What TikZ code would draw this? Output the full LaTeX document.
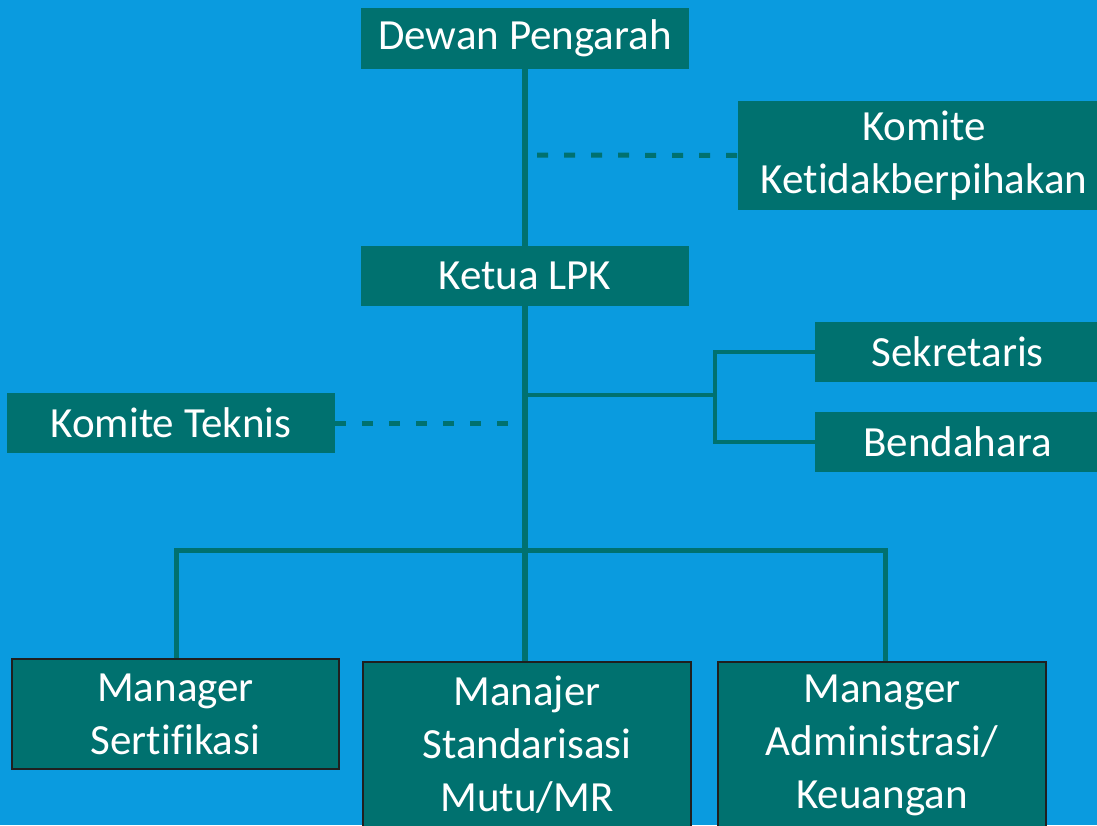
\documentclass[tikz,border=0pt]{standalone}
\usepackage{fontspec}
\setmainfont{Carlito}[Ligatures=NoCommon]
\definecolor{bg}{HTML}{0A9BDF}
\definecolor{tealbox}{HTML}{00716F}
\begin{document}
\begin{tikzpicture}[x=1pt,y=-1pt,
  box/.style={fill=tealbox, text=white, inner sep=0pt, align=center,
    font=\fontsize{43}{53}\selectfont},
  bordered/.style={box, draw=black!88, line width=2pt},
  link/.style={draw=tealbox, line width=5pt},
  mainlink/.style={draw=tealbox, line width=6pt},
  thinlink/.style={draw=tealbox, line width=4.5pt},
  dlink/.style={draw=tealbox, line width=5pt, dash pattern=on 11pt off 16pt}]
\fill[bg] (0,0) rectangle (1097,825);
\useasboundingbox (0,0) rectangle (1097,825);
\coordinate (hub) at (525,550);
\coordinate (sbj) at (525,395);
\coordinate (brk) at (715,395);
\coordinate (kd) at (537,155);
\coordinate (td) at (510,423);
\coordinate (hl) at (176,550);
\coordinate (hr) at (885,550);
% boxes
\node[box, minimum width=328pt, minimum height=61pt] (dewan) at (525,38.5) {Dewan Pengarah};
\node[box, minimum width=372pt, minimum height=109pt] (komite) at (924,155.5) {Komite\\Ketidakberpihakan};
\node[box, minimum width=328pt, minimum height=60pt] (ketua) at (525,276) {Ketua LPK};
\node[box, minimum width=285pt, minimum height=60pt] (sek) at (957.5,352) {Sekretaris};
\node[box, minimum width=285pt, minimum height=60pt] (ben) at (957.5,442) {Bendahara};
\node[box, minimum width=328pt, minimum height=60pt] (teknis) at (171,423) {Komite Teknis};
\node[bordered, minimum width=327pt, minimum height=110pt] (ms) at (175.5,714) {Manager\\Sertifikasi};
\node[bordered, minimum width=328pt, minimum height=166pt] (mm) at (527,745) {Manajer\\Standarisasi\\Mutu/MR};
\node[bordered, minimum width=328pt, minimum height=166pt] (ma) at (882,745) {Manager\\Administrasi/\\Keuangan};
% lines
\draw[mainlink] (dewan.south) -- (ketua.north);
\draw[mainlink] (ketua.south) -- (hub);
\draw[thinlink] (sbj) -- (brk);
\draw[thinlink, line join=miter] (sek.west) -| (brk) |- (ben.west);
\draw[dlink] (kd) -- (komite.west);
\draw[dlink] (teknis.east) -- (td);
\draw[link, line join=miter] (hl |- ms.north) -- (hl) -- (hr) -- (hr |- ma.north);
\draw[mainlink] (hub) -- (hub |- mm.north);
\end{tikzpicture}
\end{document}
